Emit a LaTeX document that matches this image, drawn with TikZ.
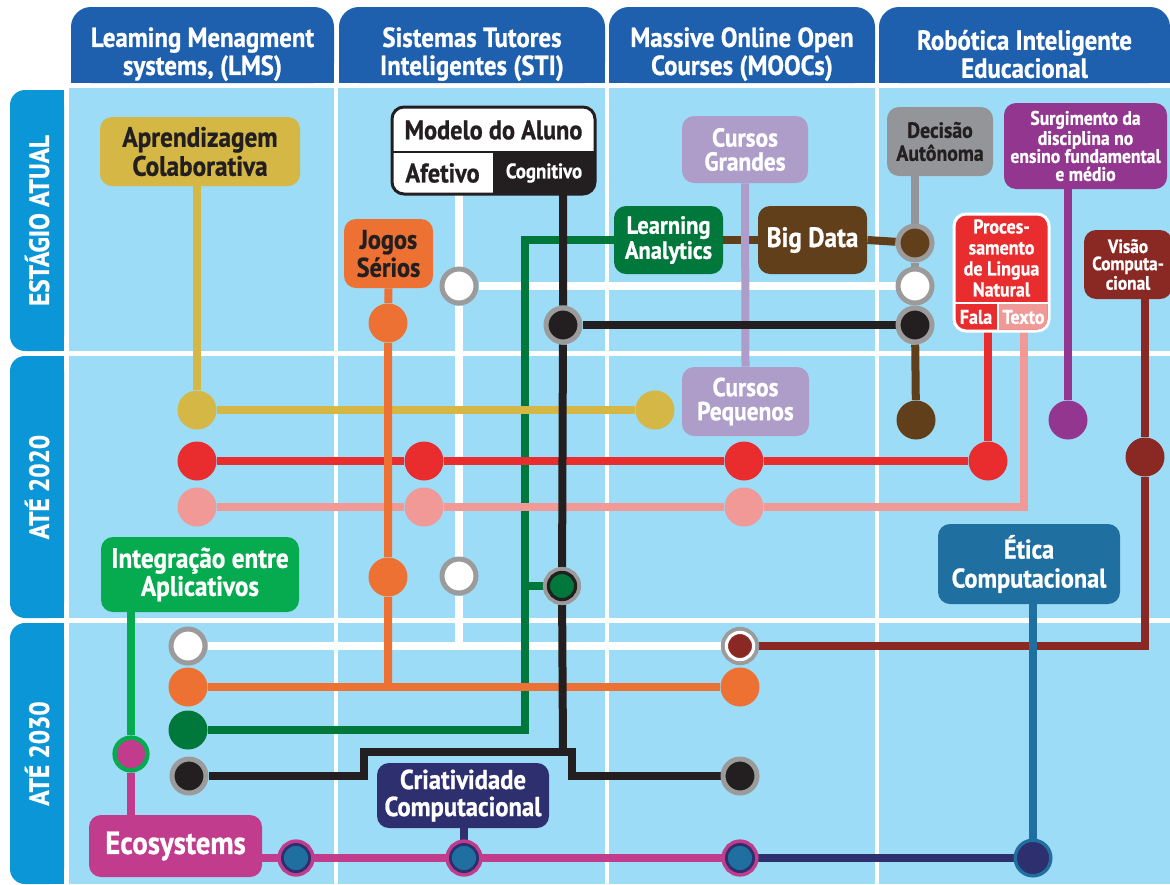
\documentclass[tikz,border=0pt]{standalone}
\usepackage{fontspec}
\setmainfont{PT Sans}[FakeStretch=0.9, BoldFeatures={FakeBold=0.8}]
\usetikzlibrary{positioning}

\definecolor{mcell}{HTML}{9DDCF6}
\definecolor{mhead}{HTML}{1E5FAE}
\definecolor{mtab}{HTML}{0B97D7}
\definecolor{myellow}{HTML}{D4B744}
\definecolor{morange}{HTML}{EC7133}
\definecolor{mdkgreen}{HTML}{00773B}
\definecolor{mgreen}{HTML}{06AB4F}
\definecolor{mbrown}{HTML}{623F1B}
\definecolor{mlilac}{HTML}{AF9DC9}
\definecolor{mgrey}{HTML}{939598}
\definecolor{mred}{HTML}{E92D2F}
\definecolor{mpink}{HTML}{F09997}
\definecolor{mpurple}{HTML}{92368F}
\definecolor{mwine}{HTML}{8A2924}
\definecolor{mmagenta}{HTML}{C13C8C}
\definecolor{mnavy}{HTML}{2E2F6E}
\definecolor{mteal}{HTML}{1F70A0}
\definecolor{mink}{HTML}{231F20}
\definecolor{mring}{HTML}{9B9B9B}

\pgfdeclarelayer{grid}
\pgfdeclarelayer{tubes}
\pgfsetlayers{grid,tubes,main}

\begin{document}
\begin{tikzpicture}[x=0.5pt, y=-0.5pt, font=\bfseries]
        \tikzstyle{header} = [fill=mhead, text=white, rounded corners=10pt, minimum height=38pt, inner sep=0pt, align=center, text height=33pt, font=\bfseries\fontsize{13.8}{14}\selectfont]
        \tikzstyle{tab} = [fill=mtab, text=white, rounded corners=7.5pt, minimum height=27pt, inner sep=0pt, rotate=90, font=\bfseries\fontsize{14}{14}\selectfont]
        \tikzstyle{box} = [rectangle, rounded corners=6pt, inner sep=0pt, align=center, text=white]
        \tikzstyle{tube} = [line width=4pt]
        \tikzstyle{stn} = [circle, minimum size=19.5pt, inner sep=0pt]
        \tikzstyle{ringstn} = [circle, minimum size=17pt, inner sep=0pt, draw=mring, line width=2.5pt]
        \tikzstyle{dblstn} = [circle, minimum size=13.6pt, inner sep=0pt, line width=1.4pt]

        \useasboundingbox (0,0) rectangle (1170,884);

        % grid of stages x columns
        \begin{pgfonlayer}{grid}
            \fill[white] (0,0) rectangle (1170,884);
            \foreach \xa/\xb in {69/334, 338/605, 609/875, 879/1170}
                \foreach \ya/\yb in {88/351, 356/618, 623/884}
                    \fill[mcell] (\xa,\ya) rectangle (\xb,\yb);
            \foreach \ya/\yb in {90/351, 356/618, 623/884}
                \fill[mtab] (37,\ya) rectangle (64,\yb);
            \foreach \xa/\xb in {71/334, 339/605, 609/875, 879/1170}
                \fill[mhead] (\xa,45) rectangle (\xb,83);
        \end{pgfonlayer}

        \node[header, minimum width=131.5pt] (hlms) at (202.5,45) {Leaming Menagment\\systems, (LMS)};
        \node[header, minimum width=133pt] (hsti) at (472,45) {Sistemas Tutores\\Inteligentes (STI)};
        \node[header, minimum width=133pt] (hmooc) at (742,45) {Massive Online Open\\Courses (MOOCs)};
        \node[header, minimum width=145.5pt] (hrob) at (1024.5,45) {Robótica Inteligente\\Educacional};

        \node[tab, minimum width=130.5pt] (tnow) at (37,220.5) {ESTÁGIO ATUAL};
        \node[tab, minimum width=131pt] (t2020) at (37,487) {ATÉ 2020};
        \node[tab, minimum width=130.5pt] (t2030) at (37,753.5) {ATÉ 2030};

        % boxes
        \node[box, fill=myellow, text=mink, minimum width=100pt, minimum height=34.5pt, font=\bfseries\fontsize{14}{14.5}\selectfont] (aprend) at (200,151.5) {Aprendizagem\\Colaborativa};
        \node[box, fill=morange, text=mink, minimum width=44.5pt, minimum height=34.5pt, font=\bfseries\fontsize{13.5}{14}\selectfont] (jogos) at (388.5,253.5) {Jogos\\Sérios};
        \node[box, fill=white, draw=mink, line width=1.5pt, minimum width=101.5pt, minimum height=43.5pt] (modelo) at (493.5,150.5) {};
        \begin{scope}
            \clip[rounded corners=6pt] (392,107) rectangle (595,194);
            \fill[mink] (493,152) rectangle (595,194);
        \end{scope}
        \draw[mink, line width=1.2pt] (392,152) -- (595,152);
        \node[text=mink, font=\bfseries\fontsize{13.5}{14}\selectfont] (mtitle) at (493.5,130) {Modelo do Aluno};
        \node[text=mink, minimum width=50.5pt, minimum height=21pt, inner sep=0pt, font=\bfseries\fontsize{13.5}{14}\selectfont] (afetivo) at (442.5,173) {Afetivo};
        \node[text=white, minimum width=51pt, minimum height=21pt, inner sep=0pt, font=\bfseries\fontsize{10.5}{11}\selectfont] (cognitivo) at (544,173) {Cognitivo};
        \node[box, fill=mdkgreen, minimum width=54.5pt, minimum height=34pt, font=\bfseries\fontsize{12.5}{11.5}\selectfont] (learn) at (668.5,240) {Learning\\Analytics};
        \node[box, fill=mbrown, minimum width=54.5pt, minimum height=34pt, font=\bfseries\fontsize{14}{15}\selectfont] (bigdata) at (812.5,240) {Big Data};
        \node[box, fill=mlilac, minimum width=63pt, minimum height=33.5pt, font=\bfseries\fontsize{13}{12}\selectfont] (cgrand) at (745,149.5) {Cursos\\Grandes};
        \node[box, fill=mlilac, minimum width=63.5pt, minimum height=34.5pt, font=\bfseries\fontsize{13}{12}\selectfont] (cpeq) at (745.5,401.5) {Cursos\\Pequenos};
        \node[box, fill=mgrey, text=mink, minimum width=53pt, minimum height=34.5pt, font=\bfseries\fontsize{11}{11.5}\selectfont] (decisao) at (940,141.5) {Decisão\\Autônoma};
        \node[box, fill=mpurple, minimum width=81.5pt, minimum height=43pt, font=\bfseries\fontsize{9.8}{9}\selectfont] (surg) at (1085.5,146) {Surgimento da\\disciplina no\\ensino fundamental\\e médio};
        \node[box, fill=mwine, minimum width=44pt, minimum height=34.5pt, font=\bfseries\fontsize{9.6}{8.6}\selectfont] (visao) at (1128,264.5) {Visão\\Computa-\\cional};
        \node[box, fill=mred, draw=white, line width=1.5pt, minimum width=47.5pt, minimum height=58.5pt] (pln) at (1001.5,272.5) {};
        \begin{scope}
            \clip[rounded corners=5pt] (955.5,215.5) rectangle (1047.5,329.5);
            \fill[mpink] (998,303) rectangle (1049,331);
        \end{scope}
        \draw[white, line width=0.8pt] (954,303) -- (1049,303) (998,303) -- (998,331);
        \node[text=white, align=center, font=\bfseries\fontsize{10}{10.5}\selectfont] (plntext) at (1001.5,258) {Proces-\\samento\\de Lingua\\Natural};
        \node[text=white, minimum width=22pt, minimum height=14pt, inner sep=0pt, font=\bfseries\fontsize{10}{10}\selectfont] (fala) at (976,317) {Fala};
        \node[text=white, minimum width=25.5pt, minimum height=14pt, inner sep=0pt, font=\bfseries\fontsize{10}{10}\selectfont] (texto) at (1023.5,317) {Texto};
        \node[box, fill=mgreen, minimum width=99pt, minimum height=37.5pt, font=\bfseries\fontsize{14}{14}\selectfont] (integ) at (200,574.5) {Integração entre\\Aplicativos};
        \node[box, fill=mmagenta, minimum width=86.5pt, minimum height=31pt, font=\bfseries\fontsize{16}{16}\selectfont] (eco) at (175.5,846) {Ecosystems};
        \node[box, fill=mnavy, minimum width=86pt, minimum height=32.5pt, font=\bfseries\fontsize{13.7}{13.5}\selectfont] (criat) at (463,795.5) {Criatividade\\Computacional};
        \node[box, fill=mteal, minimum width=91pt, minimum height=40pt, font=\bfseries\fontsize{13.5}{14.5}\selectfont] (etica) at (1029,564) {Ética\\Computacional};

        % stations
        \node[stn, fill=myellow] (y1) at (197,410) {};
        \node[stn, fill=myellow] (y2) at (655,410) {};
        \node[stn, fill=mred] (r1) at (197,461) {};
        \node[stn, fill=mred] (r2) at (424,461) {};
        \node[stn, fill=mred] (r3) at (744,461) {};
        \node[stn, fill=mred] (r4) at (988,461) {};
        \node[stn, fill=mpink] (p1) at (197,507) {};
        \node[stn, fill=mpink] (p2) at (424,507) {};
        \node[stn, fill=mpink] (p3) at (744,507) {};
        \node[stn, fill=morange] (o1) at (388,323) {};
        \node[stn, fill=morange] (o2) at (388,577) {};
        \node[stn, fill=morange] (o3) at (188,687) {};
        \node[stn, fill=morange] (o4) at (740,687) {};
        \node[ringstn, fill=white] (w1) at (459,286) {};
        \node[ringstn, fill=white] (w2) at (915,286) {};
        \node[ringstn, fill=white] (w3) at (459,576) {};
        \node[ringstn, fill=white] (w4) at (188,646) {};
        \node[ringstn, fill=mink] (k1) at (563,325) {};
        \node[ringstn, fill=mink] (k2) at (915,325) {};
        \node[ringstn, fill=mink] (k3) at (189,776) {};
        \node[ringstn, fill=mink] (k4) at (740,776) {};
        \node[ringstn, fill=mbrown] (b1) at (915,243) {};
        \node[stn, fill=mbrown] (b2) at (916,420) {};
        \node[dblstn, fill=mdkgreen, draw=mink, line width=1.6pt, preaction={draw=mring, line width=5.5pt}] (g1) at (562,586) {};
        \node[stn, fill=mdkgreen] (g2) at (188,730) {};
        \node[stn, fill=mpurple] (u1) at (1068,420) {};
        \node[stn, fill=mwine] (d1) at (1145,457) {};
        \node[dblstn, fill=mwine, draw=white, line width=1.6pt, preaction={draw=mring, line width=5.5pt}] (d2) at (740,646) {};
        \node[circle, minimum size=16.4pt, inner sep=0pt, fill=mmagenta, draw=mgreen, line width=2.2pt] (m1) at (131,754) {};
        \node[dblstn, fill=mteal, draw=mnavy, preaction={draw=mmagenta, line width=5pt}] (e1) at (296,858) {};
        \node[dblstn, fill=mteal, draw=mnavy, preaction={draw=mmagenta, line width=5pt}] (e2) at (464,858) {};
        \node[dblstn, fill=mteal, draw=mnavy, preaction={draw=mmagenta, line width=5pt}] (e3) at (740,858) {};
        \node[circle, minimum size=17.8pt, inner sep=0pt, fill=mnavy, draw=mteal, line width=1.7pt] (n1) at (1033,858) {};

        \coordinate (gturn) at (525,730);
        \coordinate (kmid) at (563,752);
        \coordinate (kleft) at (364,752);
        \coordinate (kright) at (572,752);

        % lines
        \begin{pgfonlayer}{tubes}
            \draw[tube, white] (w1 |- afetivo.south) -- (w1) -- (w3) -- (w3 |- w4);
            \draw[tube, white] (w4) -- (d2);
            \draw[tube, white] (w1) -- (w2);
            \draw[tube, mdkgreen] (learn.west) -| (gturn) -- (g2);
            \draw[tube, mdkgreen] (gturn |- g1) -- (g1);
            \draw[tube, myellow] (aprend.south -| y1) -- (y1) -- (y2);
            \draw[tube, mred] (fala.south -| r4) -- (r4) -- (r3) -- (r2) -- (r1);
            \draw[tube, mpink] (texto.south) |- (p3) -- (p2) -- (p1);
            \draw[tube, morange] (jogos.south) -- (o1) -- (o2) -- (o2 |- o3);
            \draw[tube, morange] (o3) -- (o4);
            \draw[tube, mgrey] (decisao.south -| b1) -- (b1) -- (w2) -- (k2);
            \draw[tube, mbrown] (learn.east) -- (bigdata.west);
            \draw[tube, mbrown] (bigdata.east) -- (b1);
            \draw[tube, mbrown] (k2) -- (b2);
            \draw[tube, mlilac] (cgrand.south) -- (cpeq.north);
            \draw[tube, mink] (k1 |- cognitivo.south) -- (k1) -- (g1) -- (kmid);
            \draw[tube, mink] (k3) -| (kleft) -- (kright) |- (k4);
            \draw[tube, mink] (k1) -- (k2);
            \draw[tube, mpurple] (surg.south -| u1) -- (u1);
            \draw[tube, mwine] (visao.south -| d1) -- (d1) |- (d2);
            \draw[tube, mteal] (etica.south -| n1) -- (n1);
            \draw[tube, mnavy] (criat.south -| e2) -- (e2);
            \draw[tube, mnavy] (e3) -- (n1);
            \draw[tube, mmagenta] (eco.east |- e1) -- (e1) -- (e2) -- (e3);
            \draw[tube, mmagenta] (eco.north -| m1) -- (m1);
            \draw[tube, mgreen] (integ.south -| m1) -- (m1);
        \end{pgfonlayer}
\end{tikzpicture}
\end{document}
